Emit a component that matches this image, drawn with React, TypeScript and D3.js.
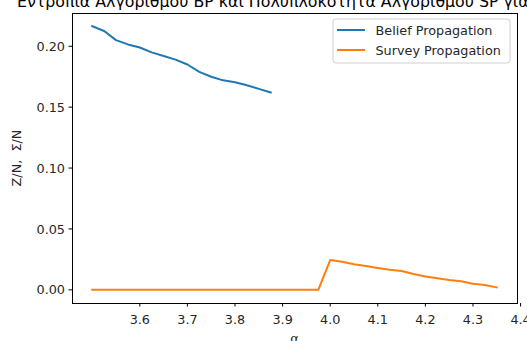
import React from "react";
import * as d3 from "d3";

const W = 527;
const H = 341;

const titleText = "Εντροπία Αλγορίθμου BP και Πολυπλοκότητα Αλγορίθμου SP για";
const xLabel = "α";
const yLabel = "Z/N,  Σ/N";

const bpAlpha = [3.5, 3.525, 3.55, 3.575, 3.6, 3.625, 3.65, 3.675, 3.7, 3.725, 3.75, 3.775, 3.8, 3.825, 3.85, 3.875];
const bpValues = [0.2165, 0.2125, 0.205, 0.2015, 0.199, 0.195, 0.192, 0.189, 0.185, 0.179, 0.175, 0.172, 0.1705, 0.168, 0.165, 0.162];

const spAlpha = [
  3.5, 3.525, 3.55, 3.575, 3.6, 3.625, 3.65, 3.675, 3.7, 3.725, 3.75, 3.775, 3.8, 3.825, 3.85, 3.875, 3.9, 3.925, 3.95, 3.975,
  4.0, 4.025, 4.05, 4.075, 4.1, 4.125, 4.15, 4.175, 4.2, 4.225, 4.25, 4.275, 4.3, 4.325, 4.35,
];
const spValues = [
  0, 0, 0, 0, 0, 0, 0, 0, 0, 0, 0, 0, 0, 0, 0, 0, 0, 0, 0, 0,
  0.0245, 0.023, 0.021, 0.0195, 0.018, 0.0165, 0.0155, 0.013, 0.011, 0.0095, 0.008, 0.007, 0.005, 0.004, 0.002,
];

const xTicks = [3.6, 3.7, 3.8, 3.9, 4.0, 4.1, 4.2, 4.3, 4.4];
const yTicks = [0.0, 0.05, 0.1, 0.15, 0.2];

const seriesNames = ["Belief Propagation", "Survey Propagation"];
const colors = ["#1f77b4", "#ff7f0e"];

const left = 72;
const right = 517;
const top = 13;
const bottom = 303;

export default function App() {
  const x = d3.scaleLinear().domain([3.4575, 4.3925]).range([left, right]);
  const y = d3.scaleLinear().domain([-0.0108, 0.2273]).range([bottom, top]);

  const line = d3
    .line<[number, number]>()
    .x((d) => x(d[0]))
    .y((d) => y(d[1]));

  const bp: [number, number][] = bpAlpha.map((a, i) => [a, bpValues[i]]);
  const sp: [number, number][] = spAlpha.map((a, i) => [a, spValues[i]]);

  const font = "DejaVu Sans, sans-serif";
  const fs = 12.8;
  const textColor = "#262626";

  return (
    <div style={{ position: "fixed", left: 0, top: 0, width: W, height: H, background: "#fff" }}>
      <svg width={W} height={H} style={{ display: "block" }} fontFamily={font}>
        <rect x={0} y={0} width={W} height={H} fill="#fff" />
        <text x={17} y={7} fontSize={15.8} fill="#000">
          {titleText}
        </text>

        <defs>
          <clipPath id="plot">
            <rect x={left} y={top} width={right - left} height={bottom - top} />
          </clipPath>
        </defs>

        <g clipPath="url(#plot)">
          <path d={line(bp) || ""} fill="none" stroke={colors[0]} strokeWidth={2} strokeLinejoin="round" strokeLinecap="square" />
          <path d={line(sp) || ""} fill="none" stroke={colors[1]} strokeWidth={2} strokeLinejoin="round" strokeLinecap="square" />
        </g>

        {/* spines */}
        <rect x={left} y={top} width={right - left} height={bottom - top} fill="none" stroke="#000" strokeWidth={1} shapeRendering="crispEdges" />

        {/* x ticks */}
        {xTicks.map((t) => (
          <g key={"x" + t}>
            <line x1={x(t)} x2={x(t)} y1={bottom} y2={bottom + 3.5} stroke="#000" strokeWidth={1} />
            <text x={x(t)} y={324} fontSize={fs} textAnchor="middle" fill={textColor}>
              {t.toFixed(1)}
            </text>
          </g>
        ))}

        {/* y ticks */}
        {yTicks.map((t) => (
          <g key={"y" + t}>
            <line x1={left - 3.5} x2={left} y1={y(t)} y2={y(t)} stroke="#000" strokeWidth={1} />
            <text x={left - 7} y={y(t)} dy="0.36em" fontSize={fs} textAnchor="end" fill={textColor}>
              {t.toFixed(2)}
            </text>
          </g>
        ))}

        <text x={(left + right) / 2} y={343} fontSize={fs} textAnchor="middle" fill={textColor}>
          {xLabel}
        </text>
        <text
          transform={`translate(21, ${(top + bottom) / 2}) rotate(-90)`}
          fontSize={fs}
          textAnchor="middle"
          fill={textColor}
          style={{ whiteSpace: "pre" }}
        >
          {yLabel}
        </text>

        {/* legend */}
        <rect x={333} y={19} width={177} height={44} rx={3} ry={3} fill="#fff" fillOpacity={0.8} stroke="#d0d0d0" strokeWidth={1} />
        {seriesNames.map((name, i) => (
          <g key={name}>
            <line x1={337} x2={365} y1={30 + i * 20} y2={30 + i * 20} stroke={colors[i]} strokeWidth={2} />
            <text x={375.5} y={30 + i * 20} dy="0.36em" fontSize={fs} fill={textColor}>
              {name}
            </text>
          </g>
        ))}
      </svg>
    </div>
  );
}
